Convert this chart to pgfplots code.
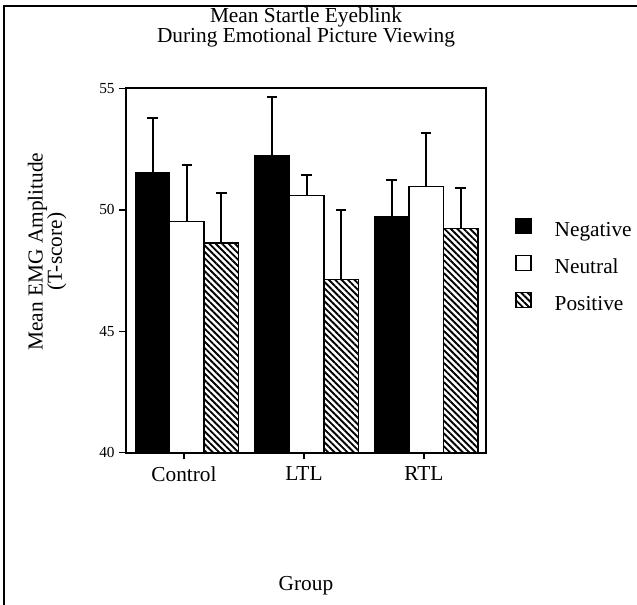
\documentclass[border=0pt]{standalone}
\usepackage{pgfplots}
\pgfplotsset{compat=1.18}
\usepackage{fontspec}
\setmainfont{Liberation Serif}
\usetikzlibrary{patterns.meta}
\begin{document}
\begin{tikzpicture}
\path[use as bounding box] (0,0) rectangle (477.75pt,-453.75pt);
\draw[line width=1.9pt] (3pt,-453.75pt) -- (3pt,-4.5pt) -- (477.75pt,-4.5pt);
\begin{axis}[
  at={(94.5pt,-339.53pt)}, anchor=south west,
  scale only axis, width=270pt, height=273.3pt,
  xmin=-0.483, xmax=2.517, ymin=40, ymax=55,
  xtick={0,1,2}, xticklabels={Control,LTL,RTL},
  ytick={40,45,50,55},
  tick align=outside, tick pos=left, major tick length=5pt,
  every tick/.style={black, line width=1.1pt},
  axis line style={line width=1.5pt},
  /pgf/number format/assume math mode=true,
  yticklabel style={font=\fontsize{11.5}{13}\selectfont},
  xticklabel style={font=\fontsize{16}{19}\selectfont, yshift=-2pt},
  title={Mean Startle Eyeblink\\[-0.5pt]During Emotional Picture Viewing},
  title style={at={(0.5,1.145)}, anchor=center, align=center, font=\fontsize{16}{14.5}\selectfont},
  xlabel={Group},
  xlabel style={at={(0.5,-0.366)}, anchor=center, font=\fontsize{16}{19}\selectfont},
  ylabel={Mean EMG Amplitude\\[-1pt](T-score)},
  ylabel style={at={(-0.219,0.552)}, anchor=center, align=center, font=\fontsize{16}{13.5}\selectfont},
  error bars/y dir=plus, error bars/y explicit,
  error bars/error bar style={line width=1.5pt, black},
  error bars/error mark options={rotate=90, mark size=4pt, line width=1.5pt, black},
  legend style={draw=none, fill=none, at={(1.0806,0.51)}, anchor=west,
    inner sep=0pt, row sep=9.6pt,
    nodes={inner sep=0pt, text height=11pt, text depth=4pt, anchor=west},
    font=\fontsize{16}{19}\selectfont},
  legend cell align=left,
  legend image code/.code={
    \draw[#1, line width=1.1pt] (0pt,-1.1pt) rectangle (11.25pt,10.1pt);
    \path[draw=none, fill=none, pattern=none] (11.25pt,0pt) -- (29pt,0pt);
  },
]
\addplot[ybar, bar shift=0pt, bar width=0.287, fill=black, draw=black, line width=1.1pt]
  coordinates {(-0.262,51.52) +- (0,2.27) (0.735,52.22) +- (0,2.41) (1.73,49.70) +- (0,1.51)};
\addlegendentry{Negative}
\addplot[ybar, bar shift=0pt, bar width=0.287, fill=white, draw=black, line width=1.1pt]
  coordinates {(0.025,49.51) +- (0,2.34) (1.022,50.58) +- (0,0.85) (2.018,50.95) +- (0,2.22)};
\addlegendentry{Neutral}
\addplot[ybar, bar shift=0pt, bar width=0.287, draw=black, line width=1.1pt,
  pattern={Lines[angle=-45, distance=3.4pt, line width=1.4pt]}]
  coordinates {(0.312,48.64) +- (0,2.03) (1.309,47.14) +- (0,2.84) (2.305,49.22) +- (0,1.69)};
\addlegendentry{Positive}
\end{axis}
\end{tikzpicture}
\end{document}
